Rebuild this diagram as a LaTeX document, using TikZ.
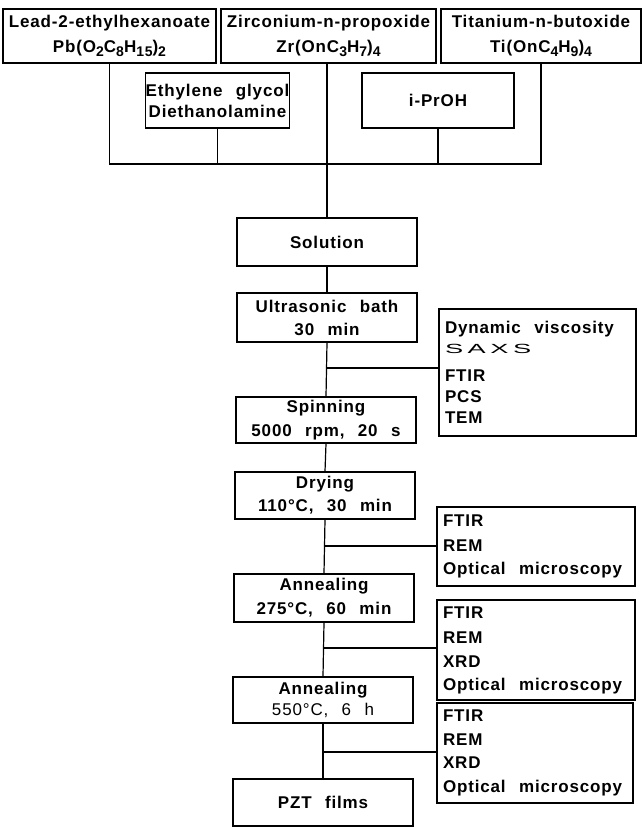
\documentclass[tikz,border=0pt]{standalone}
\usepackage{fontspec}
\setmainfont{Liberation Sans}[LetterSpace=5,WordSpace=2.4]
\usepackage{graphicx}
\newcommand{\chemsub}[1]{\raisebox{-0.4ex}{\fontsize{14}{14}\selectfont #1}}
\newcommand{\saxs}{\raisebox{0.5pt}{\scalebox{1.6}[0.78]{\mdseries S\,A\,X\,S}}}
\newcommand{\natsp}{\spaceskip=0pt\xspaceskip=0pt\relax}
\tikzset{
  box/.style={draw, line width=1.3pt, inner sep=0pt, align=center,
    font=\bfseries\fontsize{17}{23}\selectfont},
  abox/.style={draw, line width=1.3pt, inner sep=0pt, align=left,
    font=\bfseries\fontsize{17}{23}\selectfont},
  conn/.style={line width=1.2pt}
}
\begin{document}
\begin{tikzpicture}[x=1pt,y=-1pt]
\useasboundingbox (0,0) rectangle (643,827);
\fill[white] (0,0) rectangle (643,827);

% top row
\node[box, minimum width=213pt, minimum height=54pt] (b1) at (109.5,36)
  {Lead-2-ethylhexanoate\\[2pt] Pb(O\chemsub{2}C\chemsub{8}H\chemsub{15})\chemsub{2}};
\node[box, minimum width=215pt, minimum height=54pt] (b2) at (328.5,36)
  {Zirconium-n-propoxide\\[2pt] Zr(OnC\chemsub{3}H\chemsub{7})\chemsub{4}};
\node[box, minimum width=200pt, minimum height=54pt] (b3) at (541,36)
  {Titanium-n-butoxide\\[2pt] Ti(OnC\chemsub{4}H\chemsub{9})\chemsub{4}};

% second row
\node[box, minimum width=143pt, minimum height=55pt] (eth) at (217.5,100.5)
  {Ethylene glycol\\[-2pt] Diethanolamine};
\node[box, minimum width=152pt, minimum height=55pt] (ipr) at (438,100.5)
  {i-PrOH};

% process column
\node[box, minimum width=180pt, minimum height=48pt] (sol) at (327,242) {Solution};
\node[box, minimum width=180pt, minimum height=49pt] (ultra) at (327,317.5)
  {Ultrasonic bath\\ 30 min};
\node[box, minimum width=180pt, minimum height=46pt] (spin) at (326,420)
  {Spinning\\[1pt] 5000 rpm, 20 s};
\node[box, minimum width=180pt, minimum height=47pt] (dry) at (325,495.5)
  {Drying\\ 110°C, 30 min};
\node[box, minimum width=180pt, minimum height=48pt] (ann1) at (324,598)
  {Annealing\\[1pt] 275°C, 60 min};
\node[box, minimum width=180pt, minimum height=46pt] (ann2) at (323,700)
  {Annealing\\[-2pt] {\mdseries 550°C, 6 h}};
\node[box, minimum width=180pt, minimum height=47pt] (pzt) at (323,802.5)
  {PZT films};

% analysis boxes
\node[abox, minimum width=197pt, text width=185pt, minimum height=127pt] (an1) at (537.5,372.5)
  {\natsp Dynamic viscosity\\[-3pt] \saxs\\[5pt] FTIR\\[-2pt] PCS\\[-2pt] TEM};
\node[abox, minimum width=198pt, text width=186pt, minimum height=79pt] (an2) at (536,546.5)
  {\natsp FTIR\\[2pt] REM\\ Optical microscopy};
\node[abox, minimum width=198pt, text width=186pt, minimum height=100pt] (an3) at (536,650)
  {\natsp FTIR\\[2pt] REM\\[1pt] XRD\\ Optical microscopy};
\node[abox, minimum width=196pt, text width=184pt, minimum height=100pt] (an4) at (535,753)
  {\natsp FTIR\\[1pt] REM\\ XRD\\[1pt] Optical microscopy};

% helper coordinates
\coordinate (bus) at (0,164);
\coordinate (j1) at (0,368);
\coordinate (j2) at (0,546);
\coordinate (j3) at (0,648);
\coordinate (j4) at (0,752);

% collecting lines
\draw[conn] (b1.south) -- (b1.south |- bus) -- (b3.south |- bus) -- (b3.south);
\draw[conn] (eth.south) -- (eth.south |- bus);
\draw[conn] (ipr.south) -- (ipr.south |- bus);
\draw[conn] (sol.north |- b2.south) -- (sol.north);

% process chain
\draw[conn] (sol.south) -- (ultra.north);
\draw[conn] (ultra.south) -- (spin.north);
\draw[conn] (spin.south) -- (dry.north);
\draw[conn] (dry.south) -- (ann1.north);
\draw[conn] (ann1.south) -- (ann2.north);
\draw[conn] (ann2.south) -- (pzt.north);

% junctions to analyses
\draw[conn] (spin.north |- j1) -- (an1.west |- j1);
\draw[conn] (ann1.north |- j2) -- (an2.west |- j2);
\draw[conn] (ann2.north |- j3) -- (an3.west |- j3);
\draw[conn] (pzt.north |- j4) -- (an4.west |- j4);
\end{tikzpicture}
\end{document}
